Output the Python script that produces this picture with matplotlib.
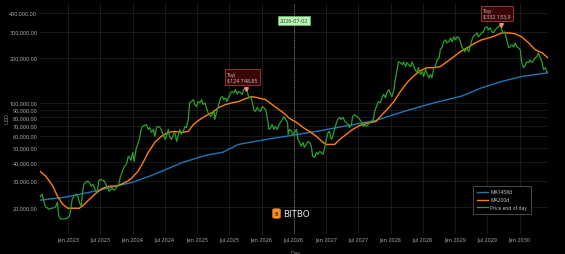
import numpy as np
import pandas as pd
import matplotlib
matplotlib.use('Agg')
import matplotlib.pyplot as plt
import matplotlib.dates as mdates
import matplotlib.ticker as ticker
import matplotlib.transforms as mtransforms
from matplotlib.patches import FancyBboxPatch

plt.rcParams['font.family'] = ['Open Sans', 'DejaVu Sans']

# price end of day (decimal year, thousand USD)
price_t = [
    2022.56, 2022.59, 2022.61, 2022.64, 2022.66, 2022.70, 2022.75, 2022.80, 2022.83, 2022.85, 2022.88, 2022.92, 2022.97,
    2023.02, 2023.04, 2023.06, 2023.09, 2023.12, 2023.15, 2023.18, 2023.20, 2023.22, 2023.24, 2023.27, 2023.30, 2023.33,
    2023.35, 2023.38, 2023.40, 2023.43, 2023.45, 2023.47, 2023.50, 2023.53, 2023.56, 2023.58, 2023.61, 2023.63, 2023.65,
    2023.68, 2023.71, 2023.75, 2023.78, 2023.81, 2023.84, 2023.87, 2023.90, 2023.93, 2023.95, 2023.97,
    2024.00, 2024.02, 2024.05, 2024.10, 2024.13, 2024.15, 2024.21, 2024.24, 2024.26, 2024.29, 2024.32, 2024.34, 2024.37,
    2024.39, 2024.42, 2024.44, 2024.47, 2024.50, 2024.52, 2024.55, 2024.57, 2024.60, 2024.63, 2024.65, 2024.68, 2024.70,
    2024.73, 2024.75, 2024.78, 2024.81, 2024.83, 2024.86, 2024.88, 2024.91, 2024.94, 2024.96, 2024.99,
    2025.01, 2025.04, 2025.07, 2025.09, 2025.12, 2025.14, 2025.16, 2025.18, 2025.21, 2025.23, 2025.26, 2025.27, 2025.31,
    2025.33, 2025.36, 2025.39, 2025.41, 2025.44, 2025.46, 2025.49, 2025.52, 2025.54, 2025.57, 2025.59, 2025.62, 2025.64,
    2025.67, 2025.70, 2025.72, 2025.76, 2025.78, 2025.80, 2025.83, 2025.85, 2025.88, 2025.90, 2025.93, 2025.95, 2025.98,
    2026.01, 2026.03, 2026.06, 2026.09, 2026.11, 2026.14, 2026.16, 2026.19, 2026.21, 2026.24, 2026.27, 2026.29, 2026.32,
    2026.34, 2026.37, 2026.40, 2026.41, 2026.43, 2026.46, 2026.48, 2026.51, 2026.54, 2026.56, 2026.59, 2026.61, 2026.64,
    2026.66, 2026.69, 2026.72, 2026.74, 2026.77, 2026.79, 2026.82, 2026.85, 2026.87, 2026.90, 2026.92, 2026.95, 2026.98,
    2027.00, 2027.03, 2027.05, 2027.08, 2027.10, 2027.13, 2027.16, 2027.18, 2027.21, 2027.23, 2027.26, 2027.29, 2027.31,
    2027.34, 2027.36, 2027.39, 2027.41, 2027.44, 2027.47, 2027.49, 2027.52, 2027.55, 2027.57, 2027.60, 2027.62, 2027.65,
    2027.67, 2027.70, 2027.73, 2027.75, 2027.79, 2027.81, 2027.84, 2027.87, 2027.89, 2027.92, 2027.94, 2027.97,
    2028.00, 2028.02, 2028.05, 2028.07, 2028.10, 2028.12, 2028.15, 2028.18, 2028.20, 2028.23, 2028.25, 2028.28, 2028.31,
    2028.33, 2028.36, 2028.38, 2028.41, 2028.43, 2028.46, 2028.49, 2028.51, 2028.54, 2028.56, 2028.59, 2028.62, 2028.64,
    2028.67, 2028.69, 2028.72, 2028.75, 2028.77, 2028.80, 2028.82, 2028.85, 2028.87, 2028.90, 2028.93, 2028.95, 2028.98,
    2029.00, 2029.03, 2029.06, 2029.08, 2029.11, 2029.13, 2029.15, 2029.18, 2029.21, 2029.23, 2029.26, 2029.28, 2029.31,
    2029.34, 2029.36, 2029.39, 2029.41, 2029.44, 2029.46, 2029.49, 2029.52, 2029.54, 2029.57, 2029.59, 2029.62, 2029.65,
    2029.67, 2029.71, 2029.72, 2029.75, 2029.77, 2029.80, 2029.83, 2029.85, 2029.88, 2029.91, 2029.93, 2029.96, 2029.98,
    2030.01, 2030.03, 2030.06, 2030.09, 2030.11, 2030.14, 2030.16, 2030.19, 2030.22, 2030.24, 2030.27, 2030.29, 2030.32,
    2030.35, 2030.37, 2030.40, 2030.42, 2030.44,
]
price_k = [
    23.4, 24.5, 22.7, 20.4, 20.0, 19.4, 19.7, 20.0, 21.6, 17.5, 16.7, 16.7, 16.8,
    17.5, 20.0, 22.7, 23.7, 24.5, 23.4, 21.0, 20.4, 25.2, 28.5, 29.4, 29.9, 29.0,
    27.7, 28.5, 27.2, 25.6, 25.2, 29.9, 30.8, 30.3, 29.9, 28.5, 27.2, 25.6, 26.0,
    26.8, 26.0, 27.2, 28.5, 32.3, 34.8, 37.6, 38.8, 43.8, 43.2, 41.2,
    46.6, 40.6, 48.8, 56.9, 66.4, 69.5, 71.6, 66.4, 68.4, 63.4, 66.4, 59.6, 68.4,
    69.5, 68.4, 66.4, 61.5, 56.9, 59.6, 66.4, 59.6, 56.9, 61.5, 63.4, 55.2, 59.6,
    66.4, 61.5, 64.4, 69.5, 68.4, 77.4, 100, 102, 105, 97.5, 94.5,
    102, 100, 105, 97.5, 100, 93, 87.5, 83.5, 81, 83.5, 87.5, 77.4, 90,
    97.5, 108, 110, 105, 108, 102, 110, 117, 119, 117, 123, 114, 119,
    117, 114, 123, 124.74885, 117, 108, 110, 102, 90, 87.5, 93, 90, 87.5,
    94.5, 93, 90, 77.4, 66.4, 68.4, 71.6, 66.4, 69.5, 66.4, 71.6, 74, 77.4,
    81, 77.4, 74, 61.5, 66.4, 64.4, 61.5, 63.4, 66.4, 56.9, 54.3, 51.1, 54.3,
    50.4, 52.7, 55.2, 54.3, 51.1, 43.8, 43.2, 46.6, 45.2, 47.3, 46.6, 45.2, 51.1,
    56.9, 63.4, 64.4, 56.9, 59.6, 66.4, 74, 77.4, 80, 77.4, 80, 75, 74,
    71.6, 68.4, 71.6, 81, 83.5, 81, 80, 77.4, 74, 69.5, 71.6, 69.5, 71.6,
    74, 75, 77.4, 87.5, 97.5, 102, 100, 110, 114, 108, 117, 123,
    114, 110, 123, 143, 167, 188, 186, 180, 188, 175, 186, 180, 175,
    188, 175, 167, 159, 172, 155, 162, 150, 167, 159, 147, 155, 147,
    172, 175, 194, 200, 227, 237, 256, 264, 252, 256, 272, 256, 277,
    264, 277, 272, 256, 234, 227, 220, 234, 220, 237, 264, 277, 285,
    294, 277, 285, 294, 299, 318, 323, 308, 318, 299, 294, 308, 318,
    323, 332.1339, 308, 294, 299, 264, 234, 237, 245, 237, 252, 237, 234,
    227, 188, 172, 180, 188, 186, 194, 186, 194, 200, 204, 216, 200,
    186, 167, 172, 162, 159,
]

ma200_t = [2022.56, 2022.65, 2022.76, 2022.83, 2022.91, 2022.99, 2023.07, 2023.17, 2023.22, 2023.33, 2023.43,
           2023.53, 2023.64, 2023.74, 2023.82, 2023.92, 2023.98, 2024.08, 2024.16, 2024.24, 2024.34, 2024.44,
           2024.55, 2024.65, 2024.75, 2024.86, 2024.94, 2025.04, 2025.14, 2025.23, 2025.33, 2025.44, 2025.54,
           2025.64, 2025.75, 2025.85, 2025.95, 2026.06, 2026.16, 2026.27, 2026.37, 2026.43, 2026.54, 2026.64,
           2026.74, 2026.85, 2026.95, 2027.00, 2027.13, 2027.21, 2027.31, 2027.41, 2027.52, 2027.62, 2027.77,
           2027.84, 2027.94, 2028.05, 2028.15, 2028.25, 2028.36, 2028.46, 2028.56, 2028.67, 2028.77, 2028.87,
           2028.98, 2029.08, 2029.21, 2029.31, 2029.41, 2029.52, 2029.62, 2029.72, 2029.83, 2029.93, 2030.03,
           2030.14, 2030.24, 2030.35, 2030.44]
ma200_k = [34.8, 32.3, 27.7, 23.7, 21.0, 19.7, 19.7, 19.7, 20.4, 22.7, 24.9,
           26.8, 27.7, 27.7, 28.5, 29.9, 31.3, 34.8, 40.0, 46.6, 54.3, 59.6,
           63.4, 64.4, 63.4, 64.4, 71.6, 77.4, 82.3, 86, 93, 97.5, 100,
           102, 106.8, 110, 108, 105, 97.5, 90, 83.5, 78.6, 74, 68.4,
           64.4, 59.6, 54.3, 52.7, 52.7, 56.9, 61.5, 66.4, 70.6, 72.8, 75,
           81, 90, 102, 119, 136, 152, 164, 172, 172, 175, 188,
           204, 220, 237, 252, 264, 272, 281, 294, 294, 290, 277,
           252, 227, 216, 200]

ma1458_t = [2022.56, 2022.96, 2023.48, 2023.74, 2024.00, 2024.26, 2024.52, 2024.78, 2025.03, 2025.16, 2025.39,
            2025.64, 2025.90, 2026.16, 2026.46, 2026.85, 2027.26, 2027.77, 2028.20, 2028.67, 2029.10, 2029.41,
            2029.72, 2030.03, 2030.44]
ma1458_k = [22.3, 23.4, 26.0, 27.7, 29.4, 32.3, 35.9, 40.0, 43.2, 44.8, 46.6,
            52.7, 55.2, 57.8, 60.5, 64.4, 69.5, 76.2, 87.5, 100, 111, 126,
            139, 150, 159]

y_ticks = [20000, 30000, 40000, 50000, 60000, 70000, 80000, 90000, 100000, 200000, 300000, 400000]
tops = [(2025.76, 124748.85, '$124 748,85'), (2029.71, 332133.9, '$332 133,9')]
marker_day = '2026-07-02'


def to_dates(years):
    years = np.asarray(years, dtype=float)
    return pd.Timestamp('2023-01-01') + pd.to_timedelta((years - 2023.0) * 365.25, unit='D')


W, H = 565, 255
fig = plt.figure(figsize=(W / 100, H / 100), dpi=100, facecolor='#000000')
ax = fig.add_axes([40 / W, 20 / H, 508 / W, 230 / H])
ax.set_facecolor('#000000')

d_price = to_dates(price_t)
ax.plot(to_dates(ma1458_t), np.array(ma1458_k) * 1000, color='#1f77b4', lw=1.0, label='MA1458d')
ax.plot(to_dates(ma200_t), np.array(ma200_k) * 1000, color='#ff7f0e', lw=1.0, label='MA200d')
ax.plot(d_price, np.array(price_k) * 1000, color='#2ca02c', lw=0.9, label='Price end of day')

ax.set_yscale('log')
ax.set_ylim(13240, 459000)
ax.set_xlim(d_price[0], d_price[-1])
ax.yaxis.set_major_locator(ticker.FixedLocator(y_ticks))
ax.yaxis.set_minor_locator(ticker.NullLocator())
ax.yaxis.set_major_formatter(ticker.FuncFormatter(lambda v, p: f'{v:,.2f}'))
ax.xaxis.set_major_locator(mdates.MonthLocator(bymonth=[1, 7]))
ax.xaxis.set_major_formatter(mdates.DateFormatter('%b %Y'))

ax.grid(True, color='#1e1e1e', lw=0.6)
ax.set_axisbelow(True)
for s in ax.spines.values():
    s.set_visible(False)
ax.tick_params(length=0, labelsize=4.0, colors='#b4b4b4', pad=2)

# dotted "today" line with label
md = pd.Timestamp(marker_day)
ax.axvline(md, color='#6a6a6a', ls=(0, (1, 1)), lw=0.8, zorder=1)
trans = mtransforms.blended_transform_factory(ax.transData, ax.transAxes)
ax.text(md, 0.93, marker_day, transform=trans, ha='center', va='center', fontsize=4.0, color='#333333',
        bbox=dict(boxstyle='square,pad=0.35', facecolor='#b9f4b9', edgecolor='#5cb85c', lw=0.6))

# top annotations
for t, v, lab in tops:
    d = to_dates([t])[0]
    ax.plot([d], [v], marker='v', ms=2.6, color='#ff8a80', zorder=5)
    ax.annotate('Top\n' + lab, xy=(d, v), xytext=(-4, 6), textcoords='offset pixels',
                ha='center', va='bottom', fontsize=3.9, color='#d8c0c0', multialignment='left',
                bbox=dict(boxstyle='square,pad=0.45', facecolor='#3a0505', edgecolor='#9a4040', lw=0.6),
                zorder=6)

leg = ax.legend(loc='lower right', bbox_to_anchor=(533 / W, 1 - 217 / H), bbox_transform=fig.transFigure,
                fontsize=3.6, handlelength=2.2, handletextpad=0.55, borderpad=0.7, labelspacing=0.55,
                frameon=True, fancybox=False, framealpha=1)
leg.get_frame().set_facecolor('#000000')
leg.get_frame().set_edgecolor('#555555')
leg.get_frame().set_linewidth(0.6)
for txt in leg.get_texts():
    txt.set_color('#d0d0d0')

# axis titles
fig.text(7 / W, 1 - 118 / H, 'USD', rotation=90, ha='center', va='center', fontsize=4.0, color='#9a9a9a')
fig.text(295 / W, 1 - 251.5 / H, 'Day', ha='center', va='top', fontsize=4.0, color='#9a9a9a')

# watermark
fig.patches.append(FancyBboxPatch((273.5 / W, 1 - 219 / H), 6 / W, 9 / H, boxstyle='round,pad=0.002,rounding_size=0.006',
                                  transform=fig.transFigure, facecolor='#f7931a', edgecolor='#c06a10', lw=0.4))
fig.text(276.5 / W, 1 - 214.5 / H, 'B', ha='center', va='center', fontsize=3.6, color='#5a3000', fontweight='bold')
fig.text(283 / W, 1 - 215 / H, 'BITBO', ha='left', va='center', fontsize=6.3, color='#e8e8e8',
         family='DejaVu Sans')

fig.savefig('out.png', dpi=100, facecolor=fig.get_facecolor())
